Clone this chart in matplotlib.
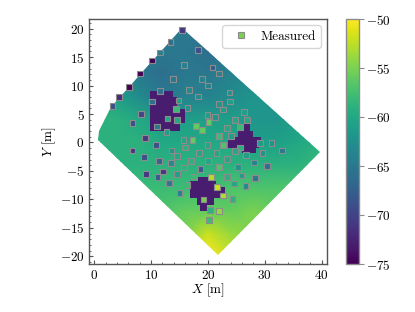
import numpy as np
import matplotlib
matplotlib.use('Agg')
import matplotlib.pyplot as plt
from matplotlib.lines import Line2D
from matplotlib.patches import Polygon

plt.rcParams['font.family'] = ['cmr10', 'DejaVu Serif']
plt.rcParams['mathtext.fontset'] = 'cm'
plt.rcParams['axes.formatter.use_mathtext'] = True
plt.rcParams['axes.unicode_minus'] = True

# campo de fondo leido a ojo (dBm), filas de y=20 a y=-20
grid_x = [0, 4, 8, 12, 16, 20, 24, 28, 32, 36, 40]
grid_y = [20, 16, 12, 8, 4, 0, -4, -8, -12, -16, -20]
field = [
    [-62, -64, -65, -65, -65, -65, -64, -63, -62, -61, -60],
    [-62, -63, -65, -65, -65, -66, -65, -64, -63, -61, -60],
    [-61, -62, -65, -66, -65, -65, -64, -63, -62, -61, -60],
    [-60, -61, -63, -65, -64, -64, -63, -62, -62, -61, -60],
    [-59, -59, -60, -61, -61, -61, -61, -62, -62, -61, -60],
    [-59, -59, -59, -60, -60, -60, -60, -61, -61, -60, -59],
    [-59, -59, -59, -59, -59, -59, -59, -59, -59, -59, -58],
    [-58, -58, -58, -58, -58, -58, -57, -57, -57, -57, -57],
    [-57, -57, -57, -57, -56, -56, -56, -55, -56, -56, -56],
    [-56, -56, -56, -55, -55, -52, -54, -55, -55, -55, -55],
    [-55, -55, -55, -54, -52, -50, -52, -54, -55, -55, -55],
]

# contorno de la zona medida
outline_x = [0.65, 0.8, 3.0, 15.5, 39.7, 21.7]
outline_y = [0.5, 2.0, 6.2, 20.2, -1.7, -19.8]

# zonas oscuras: y0, y1, x0, x1
dark_value = -73
dark_rows = [
    (8.0, 9.0, 9.8, 13.9), (5.9, 8.0, 9.8, 14.6), (3.4, 5.9, 9.8, 16.0), (2.0, 3.4, 9.8, 15.0),
    (2.0, 3.2, 26.0, 27.4), (1.0, 2.0, 25.2, 28.0), (0.5, 1.0, 24.5, 29.3), (-0.9, 0.5, 23.5, 29.0),
    (-1.8, -0.9, 26.0, 28.5),
    (-6.8, -6.0, 18.3, 20.4), (-7.9, -6.8, 16.8, 21.5), (-9.7, -7.9, 16.8, 23.0),
    (-10.9, -9.7, 18.0, 21.0), (-12.0, -10.9, 18.6, 19.8),
]

# puntos medidos
meas_x = [15.4, 13.4, 18.3, 11.5, 10.2, 15.8, 8.0, 13.8, 18.9, 6.1, 20.0, 11.6, 16.7, 4.4, 18.3, 10.2, 14.8,
          3.2, 14.4, 16.4, 8.2, 19.9, 12.9, 14.5, 6.7, 11.0, 17.9, 19.0, 12.7, 20.1, 20.8, 21.9, 23.8, 23.9,
          22.0, 22.6, 26.4, 21.2, 24.8, 26.9, 25.6, 23.3, 21.9, 24.1, 8.9, 10.8, 6.7, 13.6, 15.7, 17.3, 19.9,
          16.0, 14.5, 18.4, 8.7, 11.4, 13.5, 17.0, 20.0, 15.8, 18.7, 12.1, 9.1, 14.5, 11.1, 17.6, 13.1, 16.4,
          15.0, 19.2, 20.2, 22.6, 25.7, 29.1, 31.2, 33.0, 24.8, 21.5, 26.7, 29.6, 23.4, 28.1, 30.4, 25.3,
          22.0, 25.9, 28.3, 23.4, 20.5, 24.6, 21.6, 26.6, 22.6, 24.3, 20.4, 22.0]
meas_y = [19.8, 17.7, 16.3, 15.8, 14.4, 13.6, 12.1, 11.2, 11.2, 9.8, 10.0, 9.0, 9.2, 8.0, 8.1, 7.2, 7.4,
          6.4, 5.9, 6.1, 5.0, 4.8, 4.2, 4.0, 3.4, 2.8, 2.9, 2.2, 1.8, 3.6, 13.2, 12.1, 8.8, 7.2,
          6.8, 5.8, 5.3, 4.5, 4.0, 3.9, 2.7, 2.6, 1.2, 1.1, 0.8, -0.4, -1.4, -1.4, 0.5, 0.5, -0.4,
          -0.9, -2.4, -1.9, -2.6, -3.3, -3.6, -3.3, -3.3, -4.4, -4.7, -5.1, -5.5, -5.6, -6.1, -6.0, -7.1, -7.5,
          -8.9, -10.0, -13.6, -0.5, -0.9, -0.1, -0.1, -1.4, -1.5, -1.9, -2.2, -1.9, -2.9, -3.5, -4.1, -4.3,
          -4.3, -5.8, -6.2, -6.1, -6.1, -7.2, -7.8, -7.7, -9.3, -9.9, -11.8, -12.0]
meas_val = [-71, -66, -69, -64, -75, -64, -75, -65, -64, -75, -64, -66, -63, -72, -63, -66, -61,
            -69, -58, -62, -70, -61, -60, -60, -69, -65, -56, -56, -61, -56, -68, -64, -62, -61,
            -62, -61, -61, -62, -60, -60, -58, -60, -58, -61, -71, -69, -71, -62, -60, -56, -60,
            -59, -60, -60, -69, -67, -63, -59, -60, -59, -68, -71, -71, -61, -68, -58, -65, -58,
            -64, -55, -58, -57, -59, -61, -62, -65, -60, -60, -61, -62, -60, -64, -66, -62,
            -57, -61, -65, -59, -53, -60, -52, -63, -53, -59, -59, -54]
legend_value = -55

vmin, vmax = -75, -50
edge = '#8c8c8c'
spine = '#555555'
cmap = plt.get_cmap('viridis')

fig = plt.figure(figsize=(4.15, 3.12), dpi=100)
ax = fig.add_axes([89.3/415, 1-263.7/312, (327.3-89.3)/415, (263.7-19)/312])

mesh = ax.pcolormesh(grid_x, grid_y, np.array(field), cmap=cmap, vmin=vmin, vmax=vmax, shading='gouraud')
outline = Polygon(list(zip(outline_x, outline_y)), transform=ax.transData, fill=False, edgecolor='none')
ax.add_patch(outline)
mesh.set_clip_path(outline)

dark_color = cmap((dark_value - vmin) / (vmax - vmin))
for y0, y1, x0, x1 in dark_rows:
    ax.fill_between([x0, x1], y0, y1, color=dark_color, linewidth=0)

ax.scatter(meas_x, meas_y, c=meas_val, cmap=cmap, vmin=vmin, vmax=vmax, marker='s', s=17,
           edgecolors=edge, linewidths=0.8, zorder=3)

ax.set_xlim(-0.88, 41.0)
ax.set_ylim(-21.3, 21.7)
ax.set_xticks([0, 10, 20, 30, 40])
ax.set_yticks([-20, -15, -10, -5, 0, 5, 10, 15, 20])
ax.set_yticks(np.arange(-21, 22), minor=True)
ax.set_xticks(np.arange(0, 41, 2), minor=True)
ax.tick_params(which='major', direction='in', length=3, width=0.8, color=spine, labelsize=9.5, pad=3.5)
ax.tick_params(which='minor', direction='in', length=1.5, width=0.6, color=spine)
for s in ax.spines.values():
    s.set_color(spine)
    s.set_linewidth(1.0)
ax.set_xlabel(r'$X$ [m]', fontsize=9.5, labelpad=0)
ax.set_ylabel(r'$Y$ [m]', fontsize=9.5, labelpad=1)

handle = Line2D([], [], linestyle='none', marker='s', markersize=4.6, markerfacecolor=cmap((legend_value - vmin) / (vmax - vmin)),
                markeredgecolor=edge, markeredgewidth=0.8)
ax.legend([handle], ['Measured'], loc='upper right', fontsize=9.5, handletextpad=0.5, borderpad=0.4,
          bbox_to_anchor=(0.9735, 0.975), borderaxespad=0)

cax = fig.add_axes([345.5/415, 1-264/312, 13/415, 245/312])
cb = fig.colorbar(plt.cm.ScalarMappable(norm=plt.Normalize(vmin, vmax), cmap=cmap), cax=cax)
cb.set_ticks([-75, -70, -65, -60, -55, -50])
cb.ax.tick_params(length=3.5, width=0.8, color=edge, labelsize=9.5, pad=2)
cb.outline.set_edgecolor(edge)
cb.outline.set_linewidth(1.0)

fig.savefig('out.png', dpi=100)
